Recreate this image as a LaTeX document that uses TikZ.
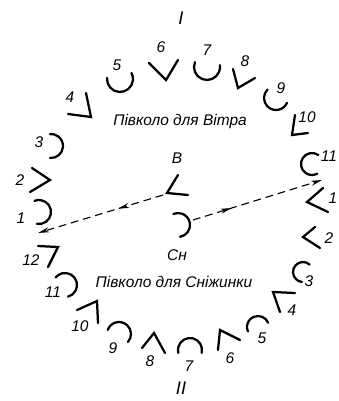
\documentclass[tikz,border=0pt]{standalone}
\usepackage{fontspec}
\setmainfont{Liberation Sans}
\usetikzlibrary{arrows.meta,decorations.markings}
\begin{document}
\begin{tikzpicture}[x=0.025cm, y=0.025cm, font=\itshape\fontsize{11}{13}\selectfont, >={Stealth[length=8pt,width=3.6pt]},
  glyph/.style={line width=1.6pt, line cap=round},
  link/.style={line width=0.8pt, dash pattern=on 5.5pt off 3.5pt, ->, postaction={decorate},
    decoration={markings, mark=at position #1 with {\arrow{>}}}}]
  \useasboundingbox (0,0) rectangle (338,-401);
  \node[font=\itshape\fontsize{13}{15}\selectfont] (rimI) at (181,-18) {I};
  \node[font=\itshape\fontsize{13}{15}\selectfont] (rimII) at (181,-388) {II};
  \node (titleV) at (180,-121) {Півколо для Вітра};
  \node (titleS) at (174,-282) {Півколо для Сніжинки};
  % half circle of the wind
  \draw[glyph] (39,-212) ++(-100:12) arc[start angle=-100, end angle=112, radius=12];
  \draw[glyph] (32,-168) -- (50,-180) -- (30,-192);
  \draw[glyph] (51,-146) ++(-95:12) arc[start angle=-95, end angle=95, radius=12];
  \draw[glyph] (86,-93) -- (91,-117) -- (68,-114);
  \draw[glyph] (120,-79) ++(175:13) arc[start angle=175, end angle=388, radius=13];
  \draw[glyph] (149,-63) -- (166,-80) -- (178,-60);
  \draw[glyph] (207,-67) ++(158:13) arc[start angle=158, end angle=368, radius=13];
  \draw[glyph] (233,-69) -- (238,-88) -- (255,-78);
  \draw[glyph] (276,-98) ++(135:12) arc[start angle=135, end angle=336, radius=12];
  \draw[glyph] (295,-115) -- (292,-135) -- (308,-133);
  \draw[glyph] (312,-164) ++(55:11) arc[start angle=55, end angle=298, radius=11];
  \node (v1) at (21,-218) {1};
  \node (v2) at (20,-180) {2};
  \node (v3) at (39,-142) {3};
  \node (v4) at (70,-97) {4};
  \node (v5) at (117,-65) {5};
  \node (v6) at (161,-47) {6};
  \node (v7) at (207,-50) {7};
  \node (v8) at (245,-61) {8};
  \node (v9) at (281,-88) {9};
  \node (v10) at (307,-117) {10};
  \node (v11) at (329,-156) {11};
  % half circle of the snowflake
  \draw[glyph] (323,-188) -- (307,-202) -- (328,-212);
  \draw[glyph] (315,-227) -- (303,-237) -- (320,-248);
  \draw[glyph] (303,-272) ++(48:10) arc[start angle=48, end angle=264, radius=10];
  \draw[glyph] (295,-293) -- (273,-292) -- (280,-312);
  \draw[glyph] (258,-327) ++(23:11) arc[start angle=23, end angle=204, radius=11];
  \draw[glyph] (218,-350) -- (220,-330) -- (240,-340);
  \draw[glyph] (190,-350) ++(-14:12) arc[start angle=-14, end angle=194, radius=12];
  \draw[glyph] (142,-348) -- (154,-333) -- (165,-353);
  \draw[glyph] (119,-334) ++(-42:12) arc[start angle=-42, end angle=160, radius=12];
  \draw[glyph] (77,-310) -- (97,-301) -- (98,-323);
  \draw[glyph] (65,-285) ++(-76:12) arc[start angle=-76, end angle=141, radius=12];
  \draw[glyph] (38,-246) -- (58,-247) -- (48,-267);
  \node (s1) at (333,-198) {1};
  \node (s2) at (329,-238) {2};
  \node (s3) at (309,-281) {3};
  \node (s4) at (292,-310) {4};
  \node (s5) at (262,-338) {5};
  \node (s6) at (230,-358) {6};
  \node (s7) at (189,-366) {7};
  \node (s8) at (150,-361) {8};
  \node (s9) at (113,-348) {9};
  \node (s10) at (80,-326) {10};
  \node (s11) at (53,-292) {11};
  \node (s12) at (31,-260) {12};
  % centre
  \node (lblB) at (177,-158) {B};
  \node (lblSn) at (177,-255) {Сн};
  \draw[glyph] (178,-175) -- (167,-193) -- (188,-195);
  \draw[glyph] (178,-225) ++(-80:12) arc[start angle=-80, end angle=113, radius=12];
  \coordinate (fromB) at (163,-195);
  \coordinate (toV1) at (38,-233);
  \coordinate (fromSn) at (193,-220);
  \coordinate (toV11) at (322,-180);
  \draw[link=0.36] (fromB) -- (toV1);
  \draw[link=0.3] (fromSn) -- (toV11);
\end{tikzpicture}
\end{document}
